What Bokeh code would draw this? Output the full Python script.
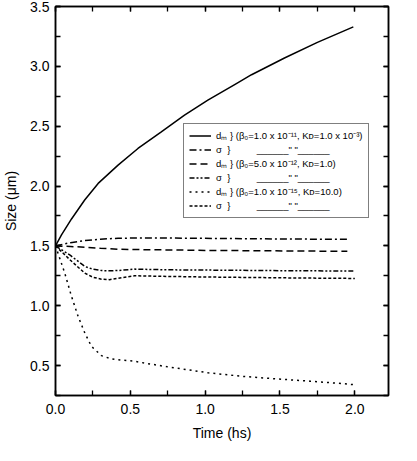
from bokeh.plotting import figure
from bokeh.models import (Range1d, LinearAxis, SingleIntervalTicker, Legend, LegendItem,
                          PrintfTickFormatter, CustomJSTickFormatter)
from bokeh.embed import file_html
from bokeh.resources import INLINE

# ---- data ----
t_dm1 = [0.0, 0.04, 0.107, 0.195, 0.285, 0.418, 0.551, 0.707, 0.862, 1.018, 1.2, 1.31, 1.53, 1.75, 1.99]
v_dm1 = [1.5, 1.592, 1.725, 1.883, 2.022, 2.175, 2.314, 2.453, 2.592, 2.717, 2.85, 2.93, 3.07, 3.20, 3.33]

t_s1 = [0.0, 0.1, 0.196, 0.3, 0.418, 0.6, 0.8, 1.0, 1.3, 1.6, 1.95]
v_s1 = [1.5, 1.527, 1.544, 1.556, 1.564, 1.566, 1.565, 1.563, 1.56, 1.557, 1.555]

t_dm2 = [0.0, 0.1, 0.196, 0.3, 0.418, 0.6, 0.8, 1.0, 1.3, 1.6, 1.95]
v_dm2 = [1.5, 1.495, 1.489, 1.48, 1.472, 1.468, 1.466, 1.462, 1.46, 1.457, 1.455]

t_s2 = [0.0, 0.05, 0.1, 0.196, 0.25, 0.307, 0.36, 0.418, 0.529, 0.751, 1.0, 1.3, 1.6, 2.0]
v_s2 = [1.5, 1.46, 1.42, 1.328, 1.305, 1.294, 1.292, 1.294, 1.306, 1.3, 1.298, 1.295, 1.292, 1.29]

t_dm3 = [0.0, 0.03, 0.062, 0.107, 0.151, 0.196, 0.24, 0.307, 0.373, 0.45, 0.529, 0.6, 0.751, 1.02, 1.25, 1.46, 1.7, 1.91, 2.0]
v_dm3 = [1.5, 1.39, 1.272, 1.078, 0.911, 0.772, 0.661, 0.583, 0.556, 0.545, 0.536, 0.52, 0.489, 0.44, 0.41, 0.39, 0.37, 0.35, 0.34]

t_s3 = [0.0, 0.05, 0.1, 0.196, 0.25, 0.307, 0.36, 0.418, 0.529, 0.751, 1.0, 1.3, 1.6, 2.0]
v_s3 = [1.5, 1.44, 1.38, 1.272, 1.238, 1.222, 1.218, 1.23, 1.25, 1.245, 1.24, 1.236, 1.232, 1.228]

legend_labels = [
    "d\u2098 } (\u03b2\u2080=1.0 x 10\u207b\u00b9\u00b9, K\u1d05=1.0 x 10\u207b\u00b3)",
    "\u03c3  }          ______\" \"______",
    "d\u2098 } (\u03b2\u2080=5.0 x 10\u207b\u00b9\u00b2, K\u1d05=1.0)",
    "\u03c3  }          ______\" \"______",
    "d\u2098 } (\u03b2\u2080=1.0 x 10\u207b\u00b9\u2075, K\u1d05=10.0)",
    "\u03c3  }          ______\" \"______",
]

FONT = "Liberation Sans"

p = figure(width=417, height=461, output_backend="svg", toolbar_location=None,
           x_range=Range1d(0, 2.225), y_range=Range1d(0.25, 3.5),
           min_border_left=54, min_border_right=29, min_border_top=6, min_border_bottom=66)
p.grid.visible = False
p.outline_line_color = "black"
p.outline_line_width = 1.5
p.background_fill_color = "white"
p.border_fill_color = "white"

def style_axis(ax):
    ax.axis_line_color = "black"
    ax.axis_line_width = 1.5
    ax.major_tick_in = 5
    ax.major_tick_out = 0
    ax.minor_tick_in = 5
    ax.minor_tick_out = 0
    ax.major_tick_line_width = 1.3
    ax.minor_tick_line_width = 1.3
    ax.major_label_text_font = FONT
    ax.major_label_text_font_size = "14px"
    ax.major_label_text_color = "black"
    ax.axis_label_text_font = FONT
    ax.axis_label_text_font_size = "14px"
    ax.axis_label_text_font_style = "normal"
    ax.axis_label_text_color = "black"

p.xaxis.ticker = SingleIntervalTicker(interval=0.5, num_minor_ticks=2)
p.yaxis.ticker = SingleIntervalTicker(interval=0.5, num_minor_ticks=2)
p.xaxis.formatter = PrintfTickFormatter(format="%.1f")
p.yaxis.formatter = PrintfTickFormatter(format="%.1f")
p.xaxis.axis_label = "Time (hs)"
p.yaxis.axis_label = "Size (\u03bcm)"
style_axis(p.xaxis[0])
style_axis(p.yaxis[0])
p.xaxis.major_label_standoff = 8
p.yaxis.major_label_standoff = 6
p.xaxis.axis_label_standoff = 8
p.yaxis.axis_label_standoff = 8

blank = CustomJSTickFormatter(code="return ''")
top = LinearAxis(ticker=SingleIntervalTicker(interval=0.5, num_minor_ticks=2), formatter=blank)
right = LinearAxis(ticker=SingleIntervalTicker(interval=0.5, num_minor_ticks=2), formatter=blank)
style_axis(top)
style_axis(right)
top.major_label_standoff = 0
right.major_label_standoff = 0
p.add_layout(top, "above")
p.add_layout(right, "right")

lw = 1.5
r1 = p.line(t_dm1, v_dm1, line_color="black", line_width=lw)
r2 = p.line(t_s1, v_s1, line_color="black", line_width=lw, line_dash="7 3 2 3")
r3 = p.line(t_dm2, v_dm2, line_color="black", line_width=lw, line_dash="7 4")
r4 = p.line(t_s2, v_s2, line_color="black", line_width=lw, line_dash="5 2 2 2 2 2")
r5 = p.line(t_dm3, v_dm3, line_color="black", line_width=lw, line_dash="2 4")
r6 = p.line(t_s3, v_s3, line_color="black", line_width=lw, line_dash="3 2")

items = [LegendItem(label=lab, renderers=[r]) for lab, r in zip(legend_labels, [r1, r2, r3, r4, r5, r6])]
legend = Legend(items=items, location=(128, 177))
legend.border_line_color = "black"
legend.border_line_width = 1.2
legend.background_fill_alpha = 1
legend.label_text_font = FONT
legend.label_text_font_size = "9.5px"
legend.label_text_color = "black"
legend.glyph_width = 22
legend.glyph_height = 13
legend.label_height = 13
legend.label_standoff = 5
legend.spacing = 1
legend.padding = 5
legend.margin = 0
p.add_layout(legend, "center")

open("out.html", "w").write(file_html(p, INLINE))
